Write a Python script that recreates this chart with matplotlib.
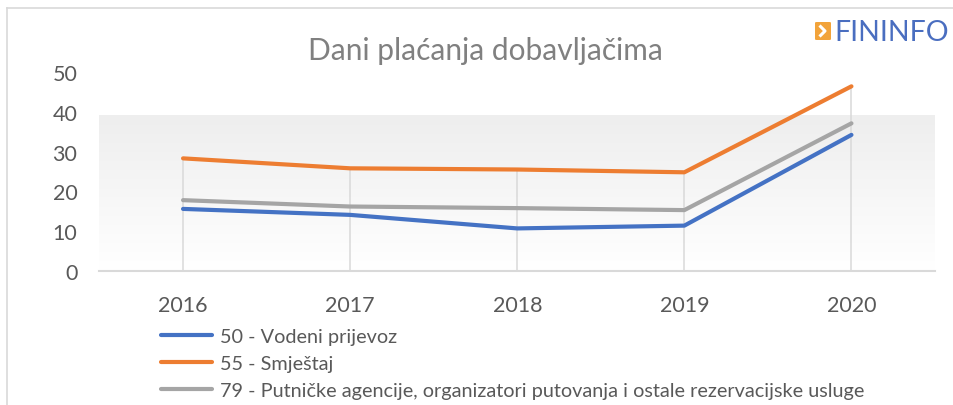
import numpy as np
import matplotlib
matplotlib.use("Agg")
import matplotlib.pyplot as plt
from matplotlib.patches import FancyBboxPatch
from matplotlib.lines import Line2D
from matplotlib.colors import LinearSegmentedColormap

years = ["2016", "2017", "2018", "2019", "2020"]
vodeni = [15.6, 14.1, 10.7, 11.4, 34.2]
smjestaj = [28.3, 25.8, 25.5, 24.8, 46.4]
putnicke = [17.8, 16.2, 15.8, 15.3, 37.1]
labels = ["50 - Vodeni prijevoz", "55 - Smještaj",
          "79 - Putničke agencije, organizatori putovanja i ostale rezervacijske usluge"]
yticks = [0, 10, 20, 30, 40, 50]
title = "Dani plaćanja dobavljačima"

plt.rcParams['font.family'] = ['Lato', 'DejaVu Sans']

W, H = 954, 406
fig = plt.figure(figsize=(W / 100, H / 100), dpi=100)
fig.patch.set_facecolor('white')

def fx(px):
    return px / W

def fy(py):
    return 1 - py / H

ax = fig.add_axes([fx(99.5), fy(272), fx(935) - fx(99.5), fy(73) - fy(272)])
ax.set_facecolor('none')
x = np.arange(len(years))

# gradient backdrop
grad = np.linspace(1.0, 0.0, 200).reshape(-1, 1)
cmap = LinearSegmentedColormap.from_list('g', ['#ffffff', '#eeeeee'])
ax.imshow(grad, cmap=cmap, extent=(-0.5, 4.5, 0, 39), aspect='auto', zorder=0,
          vmin=0, vmax=1)

# drop lines
tops = np.max(np.vstack([vodeni, smjestaj, putnicke]), axis=0)
ax.vlines(x, 0, tops, color='#d9d9d9', lw=1.1, zorder=1)
ax.axhline(0, color='#d9d9d9', lw=1.5, zorder=1, clip_on=False)

l1, = ax.plot(x, vodeni, color='#4472C4', lw=3, solid_capstyle='round', solid_joinstyle='round', zorder=3)
l2, = ax.plot(x, smjestaj, color='#ED7D31', lw=3, solid_capstyle='round', solid_joinstyle='round', zorder=3)
l3, = ax.plot(x, putnicke, color='#A5A5A5', lw=3, solid_capstyle='round', solid_joinstyle='round', zorder=3)

ax.set_xlim(-0.5, 4.5)
ax.set_ylim(0, 50)
ax.set_xticks(x)
ax.set_xticklabels(years)
ax.set_yticks(yticks)
ax.set_yticklabels([str(v) for v in yticks])
ax.tick_params(axis='both', length=0, labelsize=15.5, labelcolor='#595959')
ax.tick_params(axis='y', pad=16)
ax.tick_params(axis='x', pad=17.5)
for s in ax.spines.values():
    s.set_visible(False)

leg = fig.legend([l1, l2, l3], labels, loc='upper left',
                 bbox_to_anchor=(fx(161), fy(329)), bbox_transform=fig.transFigure,
                 frameon=False, fontsize=14.3, handlelength=2.55, handletextpad=0.4,
                 labelspacing=0.5, borderpad=0, borderaxespad=0)
for t in leg.get_texts():
    t.set_color('#595959')

fig.text(fx(485.5), fy(60), title, ha='center', va='baseline', fontsize=21.5, color='#808080')

# chart frame
fig.add_artist(Line2D([fx(7), fx(954)], [fy(9), fy(9)], color='#d9d9d9', lw=1.2, transform=fig.transFigure))
fig.add_artist(Line2D([fx(7), fx(7)], [fy(9), fy(406)], color='#d9d9d9', lw=1.2, transform=fig.transFigure))

# logo
fig.add_artist(FancyBboxPatch((fx(815), fy(41)), fx(831) - fx(815), fy(23) - fy(41),
                              boxstyle='round,pad=0,rounding_size=0.002', transform=fig.transFigure,
                              facecolor='#F2A33A', edgecolor='none'))
fig.add_artist(Line2D([fx(819.5), fx(825), fx(819.5)], [fy(26.5), fy(32), fy(37.5)], color='white', lw=2.2,
                      transform=fig.transFigure, solid_capstyle='butt'))
fig.text(fx(834), fy(41), "FININFO", ha='left', va='baseline', fontsize=20.5, color='#4A6EC0')

fig.savefig('out.png', dpi=100, facecolor='white')
